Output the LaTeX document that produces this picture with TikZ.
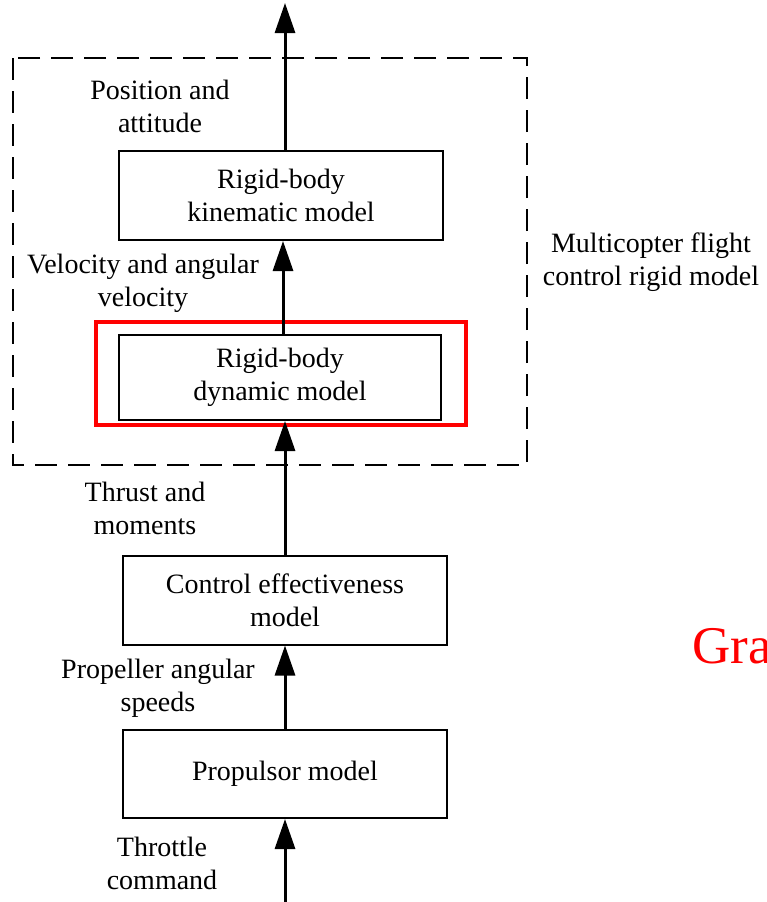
\documentclass[tikz,border=0pt]{standalone}
\usepackage{fontspec}
\setmainfont{Liberation Serif}
\usetikzlibrary{arrows.meta}
\begin{document}
\begin{tikzpicture}[x=1pt,y=-1pt,
  font=\fontsize{28}{33}\selectfont,
  block/.style={draw,line width=2pt,minimum width=324pt,minimum height=89pt,align=center,inner sep=0pt},
  lbl/.style={align=center,inner sep=0pt},
  flow/.style={line width=3pt,-{Triangle[length=30pt,width=20pt]}}]
  \useasboundingbox (0,0) rectangle (767,902);
  % outer rigid-model frame
  \draw[line width=2.5pt,dash pattern=on 22pt off 11pt] (13,58) rectangle (527,465);
  % model blocks
  \node[block] (kin) at (281,195.5) {Rigid-body\\kinematic model};
  \node[block,minimum width=322pt,minimum height=85pt] (dyn) at (280,377.5) {Rigid-body\\dynamic model};
  \node[block] (ctrl) at (285,600) {Control effectiveness\\model};
  \node[block,minimum height=88pt] (prop) at (285,774) {Propulsor model};
  % highlight around the dynamic model
  \draw[red,line width=4pt] (96,322) rectangle (466,425);
  % signal flow
  \coordinate (out) at (285,3);
  \coordinate (in) at (285,902);
  \draw[flow] (kin.north -| out) -- (out);
  \draw[flow] (dyn.north -| 283,0) -- (kin.south -| 283,0);
  \draw[flow] (ctrl.north -| 285,0) -- (dyn.south -| 285,0);
  \draw[flow] (prop.north -| 285,0) -- (ctrl.south -| 285,0);
  \draw[flow] (in) -- (prop.south -| in);
  % signal labels
  \node[lbl] (pa) at (160,106) {Position and\\attitude};
  \node[lbl] (va) at (143,283) {Velocity and angular\\velocity};
  \node[lbl] (tm) at (145,508) {Thrust and\\moments};
  \node[lbl] (ps) at (158,688) {Propeller angular\\speeds};
  \node[lbl] (tc) at (162,863) {Throttle\\command};
  \node[lbl] (mc) at (651,262) {Multicopter flight\\control rigid model};
  \node[red,inner sep=0pt,anchor=base west,font=\fontsize{53}{60}\selectfont] (gr) at (692,663) {Gra};
\end{tikzpicture}
\end{document}
